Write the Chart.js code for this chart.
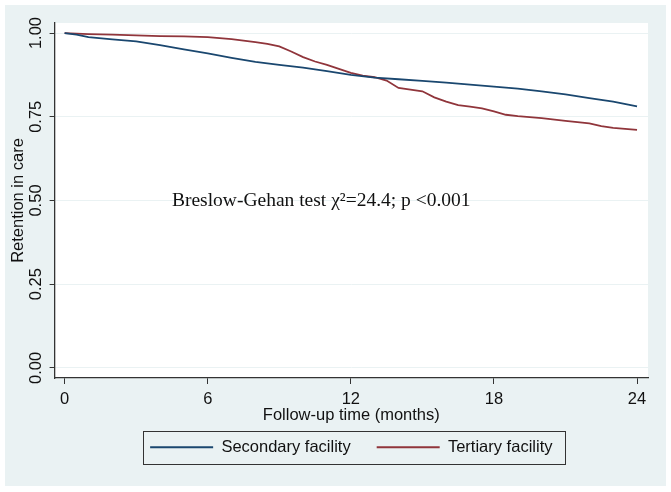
<!DOCTYPE html>
<html>
<head>
<meta charset="utf-8">
<script src="https://cdn.jsdelivr.net/npm/chart.js@4.4.0/dist/chart.umd.min.js"></script>
<style>
  html, body { margin: 0; padding: 0; background: #fff; }
  #wrap { width: 671px; height: 492px; }
</style>
</head>
<body>
<div id="wrap"><canvas id="km"></canvas></div>
<script>
// Kaplan-Meier retention curves

const secMonths = [0, 0.5, 1, 2, 3, 4, 5, 6, 7, 8, 9, 10, 11, 12, 13, 14, 15, 16, 17, 18, 19, 20, 21, 22, 23, 24];
const secRetention = [1, 0.995, 0.988, 0.981, 0.975, 0.964, 0.951, 0.939, 0.926, 0.914, 0.905, 0.897, 0.886, 0.875,
  0.867, 0.862, 0.857, 0.852, 0.846, 0.840, 0.834, 0.826, 0.817, 0.806, 0.795, 0.781];

const terMonths = [0, 1, 2, 3, 4, 5, 6, 7, 8, 8.5, 9, 9.5, 10, 10.5, 11, 11.5, 12, 12.5, 13, 13.5, 14, 14.5, 15, 15.5,
  16, 16.5, 17, 17.5, 18, 18.5, 19, 20, 21, 22, 22.5, 23, 24];
const terRetention = [1, 0.997, 0.995, 0.993, 0.991, 0.990, 0.988, 0.982, 0.973, 0.968, 0.960, 0.945, 0.928, 0.915,
  0.905, 0.893, 0.881, 0.873, 0.868, 0.858, 0.836, 0.831, 0.826, 0.808, 0.795, 0.785, 0.780, 0.775, 0.766, 0.756,
  0.752, 0.746, 0.738, 0.730, 0.722, 0.717, 0.711];

const seriesNames = ["Secondary facility", "Tertiary facility"];
const xTicks = [0, 6, 12, 18, 24];
const yTicks = [0, 0.25, 0.5, 0.75, 1];
const statText = "Breslow-Gehan test \u03c7\u00b2=24.4; p <0.001";
const statAt = [4.5, 0.5];

const sans = '"Liberation Sans", Arial, sans-serif';
const toPoints = (xs, ys) => xs.map((x, i) => ({ x: x, y: ys[i] }));

// stata-ish backdrop: grey-blue frame, white plot region
const backdrop = {
  id: 'backdrop',
  beforeDraw(chart) {
    const { ctx, chartArea: a } = chart;
    ctx.save();
    ctx.fillStyle = '#ffffff';
    ctx.fillRect(0, 0, chart.width, chart.height);
    ctx.fillStyle = '#eaf2f3';
    ctx.fillRect(5, 5, 661, 481);
    ctx.fillStyle = '#ffffff';
    ctx.fillRect(a.left, a.top, a.right - a.left, a.bottom - a.top);
    ctx.restore();
  }
};

const statLabel = {
  id: 'statLabel',
  afterDatasetsDraw(chart) {
    const { ctx, scales } = chart;
    ctx.save();
    ctx.font = '19.5px "Liberation Serif", serif';
    ctx.fillStyle = '#111';
    ctx.textAlign = 'left';
    ctx.textBaseline = 'middle';
    ctx.fillText(statText, scales.x.getPixelForValue(statAt[0]), scales.y.getPixelForValue(statAt[1]));
    ctx.restore();
  }
};

// box round the legend
const legendFrame = {
  id: 'legendFrame',
  afterDraw(chart) {
    const boxes = chart.legend.legendHitBoxes;
    if (!boxes || !boxes.length) return;
    const left = Math.min(...boxes.map(b => b.left)) - 7;
    const right = Math.max(...boxes.map(b => b.left + b.width)) + 13;
    const top = boxes[0].top - 8;
    const bottom = boxes[0].top + boxes[0].height + 8;
    const ctx = chart.ctx;
    ctx.save();
    ctx.fillStyle = '#ffffff';
    ctx.globalCompositeOperation = 'destination-over';
    ctx.fillRect(left, top, right - left, bottom - top);
    ctx.globalCompositeOperation = 'source-over';
    ctx.strokeStyle = '#333';
    ctx.lineWidth = 1;
    ctx.strokeRect(Math.round(left) + 0.5, Math.round(top) + 0.5, Math.round(right - left), Math.round(bottom - top));
    ctx.restore();
  }
};

new Chart('km', {
  type: 'line',
  data: {
    datasets: [{
      label: seriesNames[0],
      data: toPoints(secMonths, secRetention),
      borderColor: '#1a476f',
      backgroundColor: '#1a476f',
      borderWidth: 1.8,
      pointRadius: 0,
      tension: 0
    }, {
      label: seriesNames[1],
      data: toPoints(terMonths, terRetention),
      borderColor: '#90353b',
      backgroundColor: '#90353b',
      borderWidth: 1.8,
      pointRadius: 0,
      tension: 0
    }]
  },
  options: {
    responsive: true,
    maintainAspectRatio: false,
    animation: false,
    layout: { padding: { top: 23, right: 23, left: 9, bottom: 26.5 } },
    plugins: {
      tooltip: { enabled: false },
      legend: {
        position: 'bottom',
        fullSize: false,
        labels: {
          color: '#111',
          font: { family: sans, size: 16.5 },
          boxWidth: 63,
          boxHeight: 2,
          padding: 26,
          generateLabels(chart) {
            return chart.data.datasets.map((ds, i) => ({
              text: ds.label,
              fillStyle: ds.borderColor,
              strokeStyle: ds.borderColor,
              lineWidth: 0,
              fontColor: '#111',
              datasetIndex: i
            }));
          }
        }
      }
    },
    scales: {
      x: {
        type: 'linear',
        min: -0.42,
        max: 24.46,
        afterBuildTicks(scale) { scale.ticks = xTicks.map(v => ({ value: v })); },
        grid: { drawOnChartArea: false, tickLength: 6, tickColor: '#333' },
        border: { display: true, color: '#333', width: 1.3 },
        ticks: {
          color: '#111',
          padding: 6,
          font: { family: sans, size: 16.5 },
          maxRotation: 0
        },
        title: {
          display: true,
          text: 'Follow-up time (months)',
          color: '#111',
          font: { family: sans, size: 16.5 },
          padding: { top: -10.6, bottom: -12 }
        }
      },
      y: {
        type: 'linear',
        min: -0.03,
        max: 1.03,
        afterBuildTicks(scale) { scale.ticks = yTicks.map(v => ({ value: v })); },
        grid: { color: '#eaf2f3', lineWidth: 1, tickLength: 5, tickColor: '#333' },
        border: { display: true, color: '#333', width: 1.3 },
        ticks: {
          color: '#111',
          padding: -3,
          minRotation: 90,
          maxRotation: 90,
          crossAlign: 'center',
          font: { family: sans, size: 16.5 },
          callback: v => v.toFixed(2)
        },
        title: {
          display: true,
          text: 'Retention in care',
          color: '#111',
          font: { family: sans, size: 16.5 },
          padding: { top: 0, bottom: 7 }
        }
      }
    }
  },
  plugins: [backdrop, statLabel, legendFrame]
});
</script>
</body>
</html>
